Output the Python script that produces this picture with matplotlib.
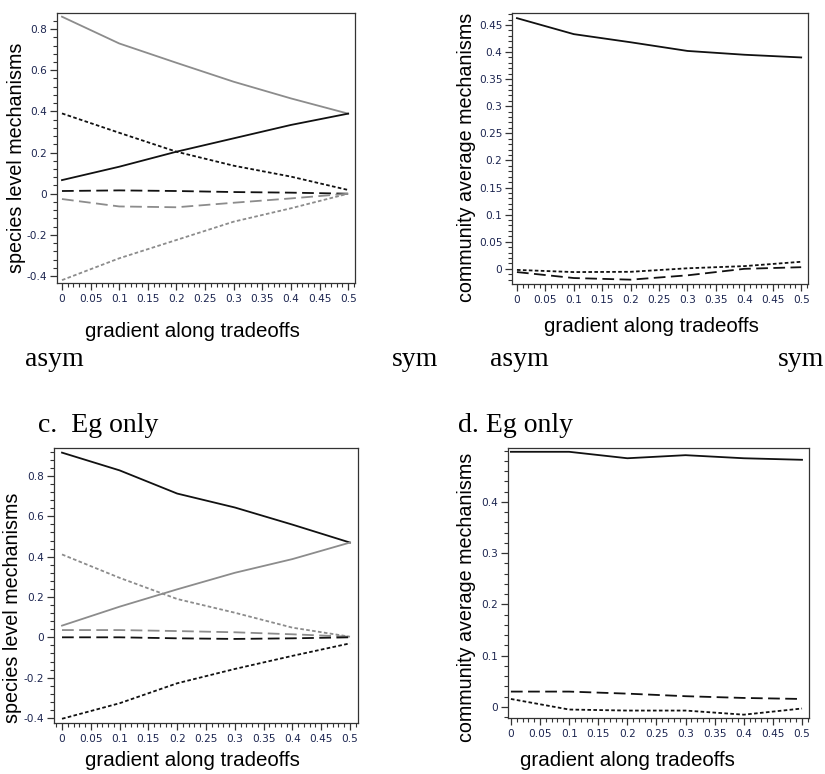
import matplotlib
matplotlib.use("Agg")
import matplotlib.pyplot as plt
from matplotlib.ticker import MultipleLocator, FuncFormatter, FixedLocator

# ---------------- data ----------------
x = [0, 0.1, 0.2, 0.3, 0.4, 0.5]
x_ticks = [0, 0.05, 0.1, 0.15, 0.2, 0.25, 0.3, 0.35, 0.4, 0.45, 0.5]

# panel a: species level mechanisms
a_gray_solid = [0.86, 0.73, 0.636, 0.544, 0.463, 0.389]
a_black_solid = [0.066, 0.131, 0.204, 0.269, 0.334, 0.389]
a_black_dotted = [0.39, 0.296, 0.204, 0.136, 0.083, 0.018]
a_black_dashed = [0.013, 0.016, 0.013, 0.008, 0.005, 0.0]
a_gray_dashed = [-0.026, -0.062, -0.066, -0.044, -0.023, 0.0]
a_gray_dotted = [-0.42, -0.314, -0.225, -0.136, -0.071, 0.0]

# panel b: community average mechanisms
b_solid = [0.4625, 0.433, 0.418, 0.402, 0.395, 0.390]
b_dotted = [-0.002, -0.006, -0.0055, 0.001, 0.005, 0.013]
b_dashed = [-0.006, -0.017, -0.020, -0.012, 0.0, 0.003]

# panel c: Eg only, species level
c_black_solid = [0.916, 0.828, 0.713, 0.644, 0.559, 0.470]
c_gray_solid = [0.058, 0.152, 0.238, 0.320, 0.388, 0.470]
c_gray_dotted = [0.411, 0.295, 0.190, 0.122, 0.048, 0.003]
c_gray_dashed = [0.036, 0.036, 0.031, 0.025, 0.015, 0.003]
c_black_dashed = [0.0, 0.0, -0.005, -0.008, -0.005, 0.0]
c_black_dotted = [-0.404, -0.327, -0.228, -0.157, -0.092, -0.030]

# panel d: Eg only, community average
d_solid = [0.4976, 0.4976, 0.485, 0.491, 0.485, 0.482]
d_dashed = [0.030, 0.030, 0.026, 0.021, 0.0176, 0.0156]
d_dotted = [0.0156, -0.005, -0.007, -0.007, -0.015, -0.003]

xlabel = "gradient along tradeoffs"
ylabel_species = "species level mechanisms"
ylabel_comm = "community average mechanisms"

# ---------------- styles ----------------
GRAY = "#8c8c8c"
BLACK = "#111111"
DOT = (0, (2.0, 1.3))
DASH = (0, (6.5, 3.0))
LW = 1.3
TICKCOL = "#1c2550"
SANS = ["Liberation Sans", "DejaVu Sans"]
SERIF = ["Liberation Serif", "DejaVu Serif"]

W, H = 825, 774
fig = plt.figure(figsize=(W / 100, H / 100), dpi=100)


def make_ax(left, right, top, bottom):
    return fig.add_axes([left / W, 1 - bottom / H, (right - left) / W, (bottom - top) / H])


def fmt(v, pos):
    s = "%g" % round(v, 4)
    if s == "-0":
        s = "0"
    return s


def style(ax, xlim, ylim, ymajor, yminor, yticks=None):
    ax.set_xlim(*xlim)
    ax.set_ylim(*ylim)
    ax.set_xticks(x_ticks)
    ax.xaxis.set_minor_locator(MultipleLocator(0.01))
    if yticks is not None:
        ax.yaxis.set_major_locator(FixedLocator(yticks))
    else:
        ax.yaxis.set_major_locator(MultipleLocator(ymajor))
    ax.yaxis.set_minor_locator(MultipleLocator(yminor))
    ax.xaxis.set_major_formatter(FuncFormatter(fmt))
    ax.yaxis.set_major_formatter(FuncFormatter(fmt))
    ax.tick_params(which="major", direction="out", length=5, width=0.9, color="#333333",
                   labelsize=7.6, labelcolor=TICKCOL, pad=2)
    ax.tick_params(which="minor", direction="out", length=3, width=0.8, color="#333333")
    ax.tick_params(axis="x", which="both", pad=3)
    ax.tick_params(top=False, right=False)
    for sp in ax.spines.values():
        sp.set_color("#333333")
        sp.set_linewidth(0.9)
    for lab in ax.get_xticklabels() + ax.get_yticklabels():
        lab.set_fontfamily(["DejaVu Sans"])


# panel a
ax = make_ax(57, 355, 13, 283)
ax.plot(x, a_gray_solid, color=GRAY, lw=LW, ls="-")
ax.plot(x, a_black_solid, color=BLACK, lw=LW, ls="-")
ax.plot(x, a_black_dotted, color=BLACK, lw=LW, ls=DOT)
ax.plot(x, a_black_dashed, color=BLACK, lw=LW, ls=DASH)
ax.plot(x, a_gray_dashed, color=GRAY, lw=LW, ls=DASH)
ax.plot(x, a_gray_dotted, color=GRAY, lw=LW, ls=DOT)
style(ax, (-0.0087, 0.512), (-0.434, 0.878), 0.2, 0.04)

# panel b
ax = make_ax(512, 808, 13, 284)
ax.plot(x, b_solid, color=BLACK, lw=LW, ls="-")
ax.plot(x, b_dotted, color=BLACK, lw=LW, ls=DOT)
ax.plot(x, b_dashed, color=BLACK, lw=LW, ls=DASH)
style(ax, (-0.0087, 0.512), (-0.028, 0.472), 0.05, 0.01)

# panel c
ax = make_ax(54, 358, 448, 723)
ax.plot(x, c_black_solid, color=BLACK, lw=LW, ls="-")
ax.plot(x, c_gray_solid, color=GRAY, lw=LW, ls="-")
ax.plot(x, c_gray_dotted, color=GRAY, lw=LW, ls=DOT)
ax.plot(x, c_gray_dashed, color=GRAY, lw=LW, ls=DASH)
ax.plot(x, c_black_dashed, color=BLACK, lw=LW, ls=DASH)
ax.plot(x, c_black_dotted, color=BLACK, lw=LW, ls=DOT)
style(ax, (-0.0139, 0.5139), (-0.425, 0.939), 0.2, 0.04)

# panel d
ax = make_ax(508, 809, 448, 718)
ax.plot(x, d_solid, color=BLACK, lw=LW, ls="-")
ax.plot(x, d_dashed, color=BLACK, lw=LW, ls=DASH)
ax.plot(x, d_dotted, color=BLACK, lw=LW, ls=DOT)
style(ax, (-0.005, 0.512), (-0.0215, 0.505), 0.1, 0.02, yticks=[0, 0.1, 0.2, 0.3, 0.4])


# ---------------- texts ----------------
def ftext(px, py, s, **kw):
    fig.text(px / W, 1 - py / H, s, **kw)


AXFS = 14.8
YFS = 14.2
ftext(192, 332, xlabel, ha="center", va="center", fontsize=AXFS, family=SANS)
ftext(651, 327, xlabel, ha="center", va="center", fontsize=AXFS, family=SANS)
ftext(192, 760, xlabel, ha="center", va="center", fontsize=AXFS, family=SANS)
ftext(627, 760, xlabel, ha="center", va="center", fontsize=AXFS, family=SANS)

ftext(17, 158, ylabel_species, ha="center", va="center", rotation=90, fontsize=YFS, family=SANS)
ftext(466, 157, ylabel_comm, ha="center", va="center", rotation=90, fontsize=YFS, family=SANS)
ftext(13, 608, ylabel_species, ha="center", va="center", rotation=90, fontsize=YFS, family=SANS)
ftext(466, 597, ylabel_comm, ha="center", va="center", rotation=90, fontsize=YFS, family=SANS)

SFS = 20
ftext(54, 360, "asym", ha="center", va="center", fontsize=SFS, family=SERIF)
ftext(415, 360, "sym", ha="center", va="center", fontsize=SFS, family=SERIF)
ftext(519, 360, "asym", ha="center", va="center", fontsize=SFS, family=SERIF)
ftext(801, 360, "sym", ha="center", va="center", fontsize=SFS, family=SERIF)
ftext(38, 425, "c.  Eg only", ha="left", va="center", fontsize=SFS, family=SERIF)
ftext(458, 425, "d. Eg only", ha="left", va="center", fontsize=SFS, family=SERIF)

fig.savefig("out.png", dpi=100, facecolor="white")
